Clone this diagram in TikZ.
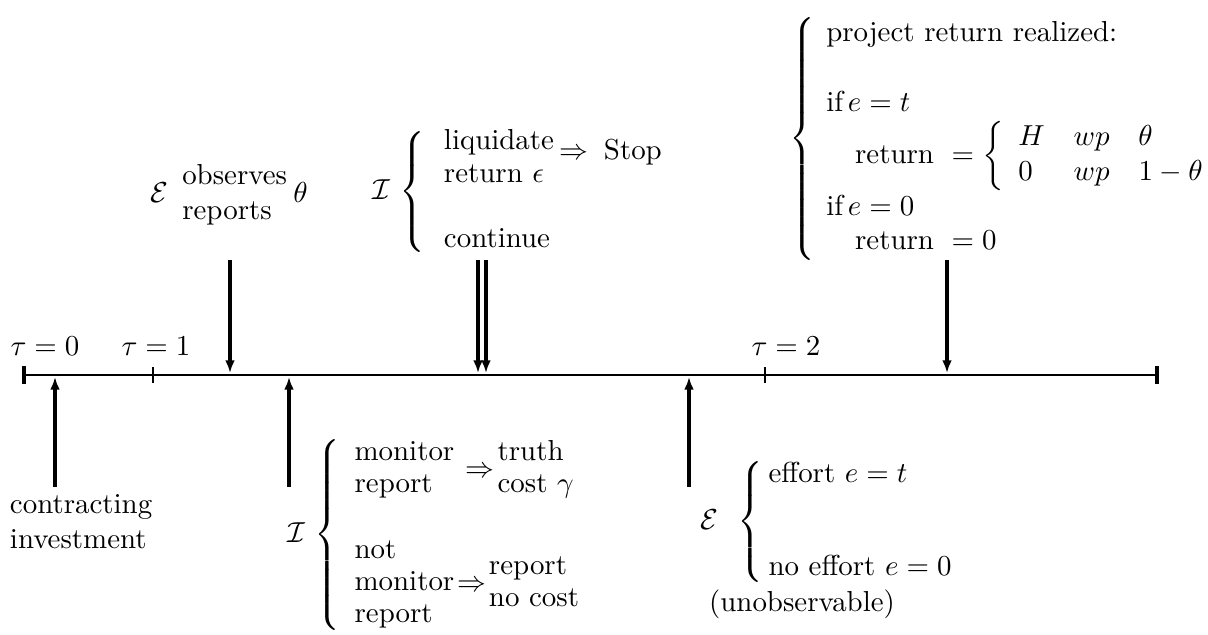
\documentclass[tikz,border=0pt]{standalone}
\usetikzlibrary{arrows.meta}
\begin{document}
\begin{tikzpicture}[x=0.346pt,y=-0.346pt]
\tikzset{
  lbl/.style={inner sep=0pt, outer sep=0pt},
  arr/.style={-{Latex[length=4.4pt,width=3.4pt]}, line width=1.1pt},
  axisline/.style={line width=1pt},
  endtick/.style={line width=1.4pt},
  midtick/.style={line width=0.8pt}
}
\useasboundingbox (0,0) rectangle (1208,635);
% timeline
\coordinate (L) at (24,375);
\coordinate (R) at (1157,375);
\draw[axisline] (L) -- (R);
\draw[endtick] (24,366) -- (24,384);
\draw[midtick] (153,367) -- (153,383);
\draw[midtick] (765,367) -- (765,383);
\draw[endtick] (1157,366) -- (1157,384);
% tau labels
\node[lbl] (tau0) at (45,346) {$\tau=0$};
\node[lbl] (tau1) at (156,346) {$\tau=1$};
\node[lbl] (tau2) at (786,346) {$\tau=2$};
% arrow end points
\coordinate (a1s) at (55,487);  \coordinate (a1e) at (55,377);
\coordinate (a2s) at (230,260); \coordinate (a2e) at (230,373);
\coordinate (a3s) at (289,487); \coordinate (a3e) at (289,377);
\coordinate (a4s) at (478,260); \coordinate (a4e) at (478,373);
\coordinate (a5s) at (486,260); \coordinate (a5e) at (486,373);
\coordinate (a6s) at (689,487); \coordinate (a6e) at (689,377);
\coordinate (a7s) at (947,260); \coordinate (a7e) at (947,373);
\draw[arr] (a1s) -- (a1e);
\draw[arr] (a2s) -- (a2e);
\draw[arr] (a3s) -- (a3e);
\draw[arr] (a4s) -- (a4e);
\draw[arr] (a5s) -- (a5e);
\draw[arr] (a6s) -- (a6e);
\draw[arr] (a7s) -- (a7e);
% labels
\node[lbl, anchor=north west, align=left] (contract) at (10,495) {contracting\\investment};
\node[lbl, anchor=west] (obs) at (150,195)
  {$\mathcal{E}\begin{array}{l@{}}\mbox{observes}\\\mbox{reports}\end{array}\mkern4mu\theta$};
\node[lbl, anchor=west] (liq) at (372,192)
  {$\mathcal{I}\,\renewcommand{\arraystretch}{0.95}\left\{\begin{array}{@{\hspace{6.5pt}}l}
    \mbox{liquidate}\\
    \mbox{return }\epsilon\\
    \\
    \mbox{continue}
  \end{array}\right.$};
\node[lbl, anchor=west] (stop) at (559,152) {$\Rightarrow\;\mbox{Stop}$};
\node[lbl, anchor=west] (mon) at (287,535)
  {$\mathcal{I}\,\left\{\begin{array}{l}
    \renewcommand{\arraystretch}{0.92}\begin{array}{@{}l@{}}\mbox{monitor}\\\mbox{report}\end{array}\hspace{4pt}{\Rightarrow}\hspace{1pt}\renewcommand{\arraystretch}{0.92}\begin{array}{@{}l@{}}\mbox{truth}\\\mbox{cost }\gamma\end{array}\\
    \\
    \renewcommand{\arraystretch}{0.92}\begin{array}{@{}l@{}}\mbox{not}\\\mbox{monitor}\\\mbox{report}\end{array}\hspace{1pt}{\Rightarrow}\hspace{1pt}\renewcommand{\arraystretch}{0.92}\begin{array}{@{}l@{}}\mbox{report}\\\mbox{no cost}\end{array}
  \end{array}\right.$};
\node[lbl, anchor=west] (eff) at (700,522)
  {$\mathcal{E}\hspace{5pt}\left\{\begin{array}{@{\hspace{2pt}}l}\mbox{effort }e=t\\[20pt] \mbox{no effort }e=0\end{array}\right.$};
\node[lbl] (unobs) at (802,604) {(unobservable)};
\node[lbl, anchor=west] (ret) at (789,139)
  {$\left\{\begin{array}{@{\hspace{4pt}}l}
    \mbox{project return realized:}\\
    \\
    \mbox{if}\,e=t\\
    \quad\mbox{return }=\left\{\begin{array}{lll}H & wp & \theta\\ 0 & wp & 1-\theta\end{array}\right.\\
    \mbox{if}\,e=0\\
    \quad\mbox{return }=0
  \end{array}\right.$};
\end{tikzpicture}
\end{document}
